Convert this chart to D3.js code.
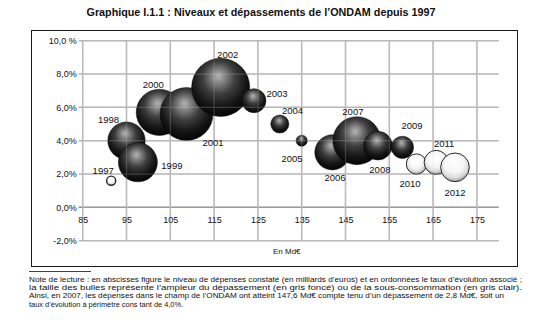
<!DOCTYPE html>
<html lang="fr">
<head>
<meta charset="utf-8">
<script src="https://cdn.jsdelivr.net/npm/d3@7"></script>
<style>
  html, body { margin: 0; padding: 0; background: #fff; }
  svg { display: block; }
  text { font-family: "Liberation Sans", Arial, sans-serif; fill: #111; }
</style>
</head>
<body>
<div id="chart"></div>
<script>
// ONDAM : dépenses constatées (Md€), taux d'évolution (%) et dépassement (Md€, négatif = sous-consommation)
const years    = [1997, 1998, 1999, 2000, 2001, 2002, 2003, 2004, 2005, 2006, 2007, 2008, 2009, 2010, 2011, 2012];
const spending = [91.5, 95.0, 97.6, 102.5, 108.7, 116.5, 124.1, 130.0, 135.0, 142.0, 147.6, 152.4, 158.0, 161.2, 165.7, 170.0];
const growth   = [1.6, 4.0, 2.7, 5.7, 5.6, 7.2, 6.4, 5.0, 4.0, 3.3, 4.0, 3.7, 3.6, 2.6, 2.7, 2.4];
const overrun  = [-0.1, 1.7, 1.85, 2.6, 3.4, 4.1, 0.7, 0.4, 0.15, 1.5, 2.8, 1.0, 0.6, -0.5, -0.7, -1.0];

const xTickValues = [85, 95, 105, 115, 125, 135, 145, 155, 165, 175];
const yTickValues = [-2, 0, 2, 4, 6, 8, 10];
const yTickLabels = ["-2,0%", "0,0%", "2,0%", "4,0%", "6,0%", "8,0%", "10,0 %"];

const titleText = "Graphique I.1.1 : Niveaux et dépassements de l’ONDAM depuis 1997";
const unitText = "En Md€";
const noteLines = [
  "Note de lecture : en abscisses figure le niveau de dépenses constaté (en milliards d’euros) et en ordonnées le taux d’évolution associé ;",
  "la taille des bulles représente l’ampleur du dépassement (en gris foncé) ou de la sous-consommation (en gris clair).",
  "Ainsi, en 2007, les dépenses dans le champ de l’ONDAM ont atteint 147,6 Md€ compte tenu d’un dépassement de 2,8 Md€, soit un",
  "taux d’évolution à périmètre cons tant de 4,0%."
];

// Year label placement relative to each bubble centre (px)
const labelOffsets = [
  [-8, -10], [-18, -21], [34, 3.5], [-6, -28], [26.5, 28.5], [7, -32.5], [23, -7.7], [12.7, -14],
  [-9.7, 17.3], [2.6, 25.6], [-4, -29.7], [2, 24], [9.6, -21.4], [-6.5, 19], [8, -19.3], [0, 24.7]
];

const W = 549, H = 323;
const svg = d3.select("#chart").append("svg").attr("width", W).attr("height", H);

const defs = svg.append("defs");
const dark = defs.append("radialGradient").attr("id", "gDark")
  .attr("cx", "48%").attr("cy", "38%").attr("r", "62%").attr("fx", "46%").attr("fy", "30%");
[[0, "#b4b4b4"], [0.18, "#858585"], [0.45, "#3e3e3e"], [0.75, "#161616"], [1, "#050505"]]
  .forEach(([o, c]) => dark.append("stop").attr("offset", o).attr("stop-color", c));
const light = defs.append("radialGradient").attr("id", "gLight")
  .attr("cx", "48%").attr("cy", "40%").attr("r", "60%").attr("fx", "46%").attr("fy", "32%");
[[0, "#ffffff"], [0.55, "#f6f6f6"], [0.8, "#dcdcdc"], [1, "#9a9a9a"]]
  .forEach(([o, c]) => light.append("stop").attr("offset", o).attr("stop-color", c));

// Frame
svg.append("rect").attr("x", 31.5).attr("y", 30.5).attr("width", 486).attr("height", 236)
  .attr("fill", "none").attr("stroke", "#1a1a1a").attr("stroke-width", 1);

// Title
svg.append("text").attr("x", 261).attr("y", 16).attr("text-anchor", "middle")
  .style("font-weight", "bold").style("font-size", "11px")
  .attr("textLength", 349).attr("lengthAdjust", "spacingAndGlyphs")
  .text(titleText);

// Scales
const x = d3.scaleLinear().domain([85, 180]).range([82.7, 498.8]);
const y = d3.scaleLinear().domain([-2, 10]).range([240.7, 40.7]);
const r = d3.scaleSqrt().domain([0, 2.8]).range([0, 24]);

const grid = svg.append("g");
// horizontal grid with short tick marks left of the axis
grid.selectAll("line.h").data(yTickValues).join("line")
  .attr("x1", x(85) - 4).attr("x2", x(180))
  .attr("y1", d => y(d)).attr("y2", d => y(d))
  .attr("stroke", d => d === 0 ? "#8c8c8c" : "#b3b3b3").attr("stroke-width", 1.5);
// vertical grid
grid.selectAll("line.v").data(xTickValues).join("line")
  .attr("x1", d => x(d)).attr("x2", d => x(d))
  .attr("y1", y(10)).attr("y2", y(-2))
  .attr("stroke", "#b3b3b3").attr("stroke-width", 1.5);

// Y axis labels
const yAxis = d3.axisLeft(y).tickValues(yTickValues)
  .tickFormat((d, i) => yTickLabels[i]).tickSize(0).tickPadding(6);
svg.append("g").attr("transform", `translate(${x(85)},0)`).call(yAxis)
  .call(g => g.select(".domain").remove())
  .call(g => g.selectAll("text").style("font-size", "9px").attr("fill", "#111")
    .style("font-family", "'Liberation Sans', Arial, sans-serif"));

// X axis labels sit just under the 0 % line
const xAxis = d3.axisBottom(x).tickValues(xTickValues).tickFormat(d3.format("d")).tickSize(0).tickPadding(9);
svg.append("g").attr("transform", `translate(0,${y(0)})`).call(xAxis)
  .call(g => g.select(".domain").remove())
  .call(g => g.selectAll("text").style("font-size", "9px").attr("fill", "#111")
    .style("font-family", "'Liberation Sans', Arial, sans-serif"));

svg.append("text").attr("x", 273).attr("y", 253.5).style("font-size", "8px").text(unitText);

// Bubbles, drawn chronologically so later years sit in front
const rows = years.map((yr, i) => ({ yr, sx: spending[i], g: growth[i], o: overrun[i], off: labelOffsets[i] }));
svg.append("g").selectAll("circle").data(rows).join("circle")
  .attr("cx", d => x(d.sx)).attr("cy", d => y(d.g))
  .attr("r", d => r(Math.abs(d.o)))
  .attr("fill", d => d.o < 0 ? "url(#gLight)" : "url(#gDark)")
  .attr("stroke", d => d.o < 0 ? "#2a2a2a" : "#0a0a0a")
  .attr("stroke-width", d => d.o < 0 ? (Math.abs(d.o) < 0.2 ? 1.4 : 1) : 0.5);

// Grid faintly visible through the spheres
const ghost = svg.append("g").attr("opacity", 0.22);
ghost.selectAll("line.h").data(yTickValues).join("line")
  .attr("x1", x(85)).attr("x2", x(180)).attr("y1", d => y(d)).attr("y2", d => y(d))
  .attr("stroke", "#d0d0d0").attr("stroke-width", 1.2);
ghost.selectAll("line.v").data(xTickValues).join("line")
  .attr("x1", d => x(d)).attr("x2", d => x(d)).attr("y1", y(10)).attr("y2", y(-2))
  .attr("stroke", "#d0d0d0").attr("stroke-width", 1.2);

// Year labels
svg.append("g").selectAll("text").data(rows).join("text")
  .attr("x", d => x(d.sx) + d.off[0]).attr("y", d => y(d.g) + d.off[1])
  .attr("text-anchor", "middle").attr("dominant-baseline", "central")
  .style("font-size", "9.5px").text(d => d.yr);

// Reading note
svg.append("line").attr("x1", 29).attr("x2", 91).attr("y1", 271.5).attr("y2", 271.5)
  .attr("stroke", "#111").attr("stroke-width", 0.8);
const noteWidths = [493, 493, 475, null];
svg.append("g").selectAll("text").data(noteLines).join("text")
  .attr("x", 29).attr("y", (d, i) => 281.5 + i * 8.4)
  .style("font-size", "7.4px")
  .each(function (d, i) {
    if (noteWidths[i]) d3.select(this).attr("textLength", noteWidths[i]).attr("lengthAdjust", "spacingAndGlyphs");
  })
  .text(d => d);
</script>
</body>
</html>
